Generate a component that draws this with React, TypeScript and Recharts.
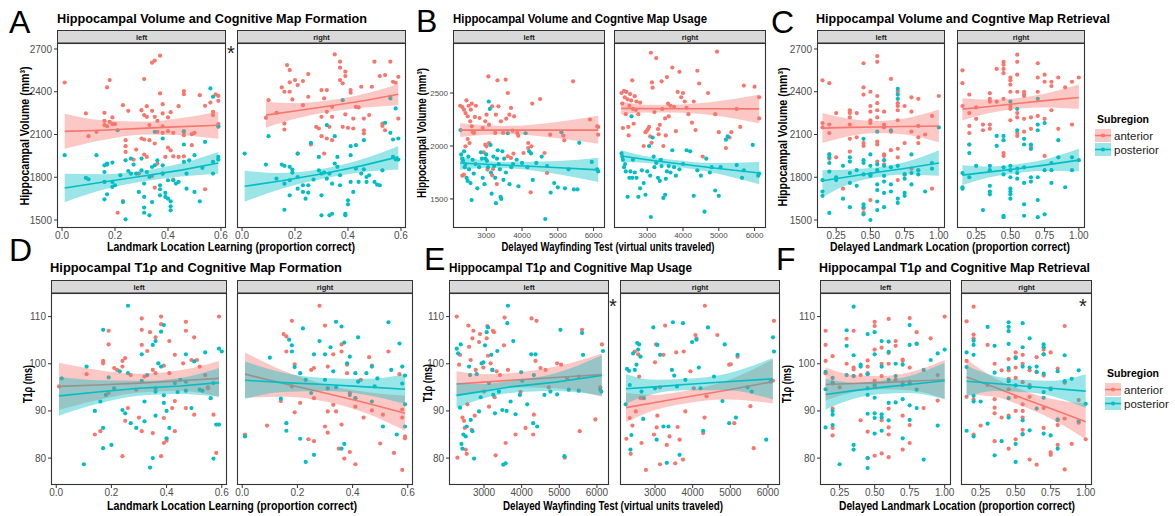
import React from 'react';
import { ComposedChart, XAxis, YAxis, Scatter, Line, Area } from 'recharts';

const RED = '#F8766D';
const CYAN = '#00BFC4';
const FONT = '"Liberation Sans", Arial, Helvetica, sans-serif';

type Pt = [number, number];
type Col = [number, number[]];
type Fit = [number, number, number, number];

// ---------- tick labels ----------
const propTicks = [0, 0.2, 0.4, 0.6];
const wayTicks = [3000, 4000, 5000, 6000];
const delayTicks = [0.25, 0.5, 0.75, 1.0];
const volTicksAC = [1500, 1800, 2100, 2400, 2700];
const volTicksB = [1500, 2000, 2500];
const t1Ticks = [80, 90, 100, 110];

// ---------- A: Volume vs Landmark Location Learning ----------
const volFormLeftAnt: Pt[] = [[0.01,2465],[0.09,2248],[0.10,2088],[0.13,2119],[0.17,2430],[0.18,2482],[0.16,2252],[0.16,2196],[0.16,2166],[0.17,2158],[0.18,2189],[0.19,2220],[0.19,2173],[0.20,2173],[0.21,1551],[0.23,2306],[0.25,2266],[0.24,2018],[0.24,2060],[0.24,1978],[0.23,1633],[0.27,1924],[0.28,1994],[0.30,2271],[0.31,2236],[0.32,2299],[0.32,2224],[0.31,2489],[0.30,2072],[0.31,2065],[0.31,1959],[0.32,1943],[0.29,1826],[0.34,2604],[0.35,2618],[0.37,2653],[0.37,2388],[0.34,2266],[0.35,2224],[0.36,2196],[0.33,2166],[0.36,2119],[0.33,2060],[0.35,2037],[0.36,1896],[0.35,1727],[0.34,1809],[0.38,2313],[0.38,2248],[0.38,2158],[0.38,2112],[0.40,2220],[0.40,2123],[0.41,2257],[0.40,2008],[0.41,1989],[0.39,1943],[0.38,1826],[0.42,1784],[0.42,2112],[0.42,1947],[0.44,2299],[0.46,2405],[0.46,2383],[0.46,2123],[0.46,2095],[0.46,1947],[0.44,1943],[0.49,2025],[0.49,2102],[0.50,2112],[0.52,2376],[0.54,2301],[0.54,1716],[0.56,2324],[0.57,2259],[0.58,2381],[0.59,2336],[0.57,2236],[0.59,2371],[0.59,2173],[0.59,2154]];
const volFormLeftPost: Pt[] = [[0.01,1955],[0.09,1795],[0.10,1786],[0.13,1955],[0.16,1884],[0.17,1889],[0.17,1896],[0.19,1903],[0.16,1837],[0.16,1767],[0.17,1680],[0.16,1645],[0.19,1767],[0.19,1732],[0.20,1744],[0.21,2130],[0.22,1814],[0.23,1626],[0.24,1505],[0.24,1919],[0.26,1931],[0.25,1844],[0.26,1826],[0.27,1889],[0.28,1826],[0.29,1697],[0.30,1931],[0.30,1849],[0.31,1756],[0.31,1662],[0.31,1587],[0.31,1551],[0.33,1533],[0.32,1837],[0.33,1802],[0.34,1626],[0.34,1872],[0.35,1884],[0.35,2119],[0.36,1919],[0.37,1716],[0.37,1673],[0.37,1744],[0.38,2072],[0.38,1884],[0.38,1826],[0.39,1690],[0.39,1662],[0.40,1650],[0.41,1631],[0.41,1596],[0.41,1568],[0.40,1779],[0.42,1779],[0.43,1756],[0.44,1767],[0.46,2119],[0.46,2030],[0.46,1908],[0.47,1826],[0.47,1720],[0.48,1919],[0.50,1697],[0.50,1955],[0.52,1631],[0.53,1866],[0.54,2048],[0.56,2423],[0.57,2365],[0.57,1826],[0.57,1908],[0.59,1943],[0.59,2158],[0.59,1924]];
const volFormRightAnt: Pt[] = [[0.09,2217],[0.10,2341],[0.13,2252],[0.15,2430],[0.16,2400],[0.16,2177],[0.16,2135],[0.17,2587],[0.18,2466],[0.18,2400],[0.18,2552],[0.19,2346],[0.20,2482],[0.21,2447],[0.21,1966],[0.23,2475],[0.23,2306],[0.25,2524],[0.25,2365],[0.26,2030],[0.28,2154],[0.29,2142],[0.30,2224],[0.30,2412],[0.31,2353],[0.30,2088],[0.31,1966],[0.32,2412],[0.32,2072],[0.32,2259],[0.33,2154],[0.34,2224],[0.34,2294],[0.34,2060],[0.35,2662],[0.37,2611],[0.37,2569],[0.37,2482],[0.38,2459],[0.39,2541],[0.39,2510],[0.39,2241],[0.38,2154],[0.40,2147],[0.41,2412],[0.41,2393],[0.42,2142],[0.42,2212],[0.43,2294],[0.44,2290],[0.45,2435],[0.46,2130],[0.46,2212],[0.48,2236],[0.49,2435],[0.50,2611],[0.52,2510],[0.53,2177],[0.54,2517],[0.54,2130],[0.56,2365],[0.56,2611],[0.57,2470],[0.58,2463],[0.59,2505],[0.59,2212],[0.53,2160],[0.46,2107]];
const volFormRightPost: Pt[] = [[0.01,1966],[0.09,1889],[0.10,2088],[0.13,1790],[0.15,1889],[0.16,1880],[0.16,1755],[0.16,1572],[0.18,1873],[0.18,1779],[0.18,1673],[0.19,1833],[0.19,1854],[0.21,1966],[0.21,1802],[0.21,1720],[0.23,1744],[0.23,1697],[0.24,1650],[0.25,1744],[0.25,1692],[0.26,2041],[0.27,1784],[0.29,1849],[0.29,1943],[0.30,1826],[0.30,1673],[0.30,1533],[0.31,1833],[0.32,1790],[0.32,2166],[0.33,1533],[0.33,1826],[0.34,1544],[0.34,1755],[0.35,1896],[0.35,2088],[0.36,1943],[0.36,1873],[0.37,1814],[0.37,1744],[0.38,2341],[0.39,1544],[0.39,1533],[0.40,1638],[0.40,1610],[0.41,1767],[0.41,1955],[0.41,2018],[0.42,1697],[0.43,2025],[0.43,1861],[0.44,1767],[0.45,1826],[0.46,2060],[0.46,1856],[0.47,1767],[0.47,1802],[0.48,1814],[0.50,1767],[0.51,1748],[0.52,1744],[0.53,1849],[0.54,2182],[0.56,2112],[0.57,2065],[0.57,1943],[0.58,1926],[0.58,2283],[0.59,2072],[0.59,1924],[0.56,2353]];
const volFormLeftAntFit: Fit[] = [[0.01,2122,2000,2245],[0.15,2130,2060,2200],[0.32,2145,2100,2190],[0.45,2155,2095,2215],[0.59,2165,2070,2262]];
const volFormLeftPostFit: Fit[] = [[0.01,1725,1625,1825],[0.15,1765,1710,1822],[0.32,1812,1775,1850],[0.45,1850,1805,1898],[0.59,1900,1825,1978]];
const volFormRightAntFit: Fit[] = [[0.09,2236,2147,2328],[0.2,2265,2210,2320],[0.35,2305,2265,2345],[0.47,2340,2290,2390],[0.59,2382,2305,2455]];
const volFormRightPostFit: Fit[] = [[0.01,1737,1628,1845],[0.15,1775,1720,1830],[0.32,1830,1795,1865],[0.45,1880,1835,1925],[0.59,1943,1855,2020]];

// ---------- B: Volume vs Delayed Wayfinding ----------
const volUseLeftAnt: Pt[] = [[2270,2380],[2331,2368],[2375,2343],[2419,2311],[2445,2431],[2480,2280],[2507,2380],[2551,2233],[2568,2343],[2594,2186],[2621,2132],[2656,2123],[2709,2380],[2594,2400],[2682,2274],[2480,2066],[2533,2028],[2419,1997],[2375,1729],[2331,1720],[2814,2264],[2901,2170],[2972,2233],[3007,2296],[3077,2201],[3059,2657],[3165,2374],[3270,2296],[3252,2123],[3314,2620],[3340,2374],[3410,2233],[3472,2123],[3542,2626],[3559,2258],[3603,2500],[3691,2359],[3647,2296],[3735,2145],[3778,2280],[3866,2123],[3892,2097],[3077,2028],[2972,2012],[3007,1997],[2928,1940],[3033,1777],[3165,1723],[3191,1783],[3296,1641],[3603,1902],[3691,1887],[3761,1928],[4173,2028],[4173,1981],[4261,1997],[4042,1934],[4243,1563],[4287,2400],[4506,2443],[4629,1934],[4699,1745],[4787,2107],[5155,2097],[5181,2053],[5427,2610],[5900,2250],[6130,2107],[6130,2180],[6102,2186]];
const volUseLeftPost: Pt[] = [[2280,2150],[2300,1920],[2330,1880],[2350,1860],[2380,1950],[2400,1800],[2420,1830],[2450,1700],[2480,1670],[2500,1900],[2520,1780],[2560,1650],[2590,1490],[2620,1870],[2650,1740],[2700,1830],[2750,1600],[2800,1800],[2850,1940],[2880,1880],[2900,1700],[2950,1640],[2980,1880],[3000,1920],[3020,1860],[3050,1800],[3070,2420],[3100,2350],[3120,2010],[3130,1750],[3150,1550],[3200,1900],[3220,1810],[3250,1700],[3270,1460],[3300,1880],[3320,1960],[3350,1830],[3380,1780],[3400,1520],[3420,1500],[3450,1950],[3480,1680],[3500,1880],[3550,1750],[3600,2120],[3650,1640],[3700,1800],[3750,1830],[3850,1870],[3900,1620],[4000,1840],[4100,2120],[4150,1800],[4200,1950],[4250,1930],[4300,1680],[4400,1840],[4550,1900],[4650,1310],[4700,1810],[4800,1560],[4900,1650],[5000,1610],[5100,2130],[5200,1600],[5300,1780],[5450,1590],[5550,1590],[5600,2030],[5950,1850],[6100,1780],[6130,1760]];
const volUseRightAnt: Pt[] = [[2280,2500],[2300,2400],[2320,2170],[2350,2520],[2370,2460],[2400,2300],[2420,2510],[2450,2440],[2470,2180],[2480,2100],[2500,2380],[2520,2490],[2550,2430],[2580,2620],[2600,2350],[2620,2210],[2650,2470],[2680,2340],[2700,2420],[2750,2300],[2800,2410],[2900,2000],[2950,2130],[3000,2150],[3020,2160],[3050,2180],[3080,2090],[3100,2880],[3120,2030],[3130,2600],[3150,2550],[3200,2320],[3250,2830],[3300,2160],[3320,2110],[3350,2200],[3400,2610],[3420,2350],[3450,2000],[3500,2260],[3520,2100],[3550,2650],[3580,2400],[3600,2280],[3650,2380],[3700,2740],[3750,2370],[3800,2140],[3850,2510],[3900,2700],[3950,2460],[4000,2500],[4050,2420],[4100,2360],[4150,2300],[4250,2220],[4300,2420],[4350,2150],[4400,2710],[4450,2590],[4550,1900],[4700,2500],[4900,2300],[4950,2890],[5000,2130],[5200,1980],[5300,2080],[5350,2130],[5500,2350],[5600,2180],[5700,2570],[6000,2560],[6130,2460],[6130,2260]];
const volUseRightPost: Pt[] = [[2280,1930],[2300,1900],[2320,1870],[2350,1800],[2380,1830],[2400,1760],[2450,1520],[2500,1700],[2530,1760],[2560,2280],[2580,1700],[2600,1870],[2650,1750],[2700,1700],[2750,1520],[2800,1600],[2850,1770],[2900,1650],[2950,1540],[3000,1760],[3050,2000],[3080,1720],[3100,1330],[3150,2080],[3180,1900],[3200,1800],[3250,1840],[3300,1700],[3350,1670],[3380,1870],[3400,1810],[3450,1510],[3500,1540],[3520,1690],[3550,1760],[3600,1810],[3650,1750],[3700,1960],[3750,1800],[3800,1720],[3900,1780],[4000,1830],[4100,1960],[4200,1950],[4300,1530],[4400,1770],[4500,1720],[4600,1380],[4650,1880],[4750,1750],[4800,1800],[4900,1580],[5000,1530],[5050,1800],[5200,2060],[5250,2090],[5500,1820],[5650,1700],[5700,1770],[5950,2010],[6100,1720],[6130,1740]];
const volUseLeftAntFit: Fit[] = [[2270,2150,2085,2215],[3000,2150,2105,2195],[3600,2150,2110,2190],[4800,2150,2080,2220],[6130,2150,2020,2285]];
const volUseLeftPostFit: Fit[] = [[2270,1840,1775,1905],[3000,1828,1795,1860],[3600,1818,1790,1848],[4800,1800,1745,1855],[6130,1775,1660,1890]];
const volUseRightAntFit: Fit[] = [[2270,2355,2295,2420],[3000,2353,2315,2390],[3700,2352,2315,2390],[4800,2352,2290,2415],[6130,2350,2215,2485]];
const volUseRightPostFit: Fit[] = [[2270,1905,1850,1960],[3000,1870,1840,1900],[3700,1840,1810,1870],[4800,1795,1750,1840],[6130,1745,1640,1850]];

// ---------- C: Volume vs Delayed Landmark Location ----------
const volRetLeftAnt: Col[] = [[0.15,[2480,2180,2150]],[0.2,[2460,2170,2110,1960,1930]],[0.25,[2250,1940]],[0.3,[1720]],[0.35,[2270,2250,2220,2170,2070,1980]],[0.4,[2250,2080]],[0.45,[2600,2430,2380,2040,2020,1580,1550]],[0.5,[2400,2300,2260,2200,2180,1820,1640]],[0.55,[2650,2610,2370,2320,2270,2220,2050,2030,1910]],[0.6,[2260,2170,2150,1960,1950,1890]],[0.65,[2490,2120,1990]],[0.7,[2400,2320,2300,2270,2200,2000,1940,1780]],[0.75,[2300,2040,1820]],[0.8,[2360,2260,2120,1860]],[0.85,[2350,2160,2080,2040]],[0.9,[2100]],[0.95,[2230,1720]],[1.0,[2370]]];
const volRetLeftPost: Col[] = [[0.15,[1780,1700,1670]],[0.2,[1960,1940,1900,1840,1550]],[0.25,[1800,1780]],[0.3,[1880,1650]],[0.35,[1940,1910,1830,1760,1590]],[0.4,[1850,1740]],[0.45,[2070,1920,1900,1820,1610,1590,1540]],[0.5,[1960,1880,1820,1810,1500]],[0.55,[2120,1890,1850,1750,1710,1630,1570]],[0.6,[1920,1880,1810,1770,1690,1590]],[0.65,[2130,1870,1750,1700]],[0.7,[2420,2380,2350,1880,1650,1620]],[0.75,[1820,1790,1690,1670]],[0.8,[1960,1830,1750]],[0.85,[1850,1820]],[0.9,[1700]],[0.95,[1900,1860]],[1.0,[2150]]];
const volRetRightAnt: Col[] = [[0.15,[2550,2460,2300]],[0.2,[2380,2250,2160,2110,2030]],[0.25,[2290,2210]],[0.3,[2170,2130]],[0.35,[2390,2350,2330,2170,2140]],[0.4,[2560,2330]],[0.45,[2610,2590,2560,2530,2350,1970,1950]],[0.5,[2500,2480,2450,2400,2300,2280,2200]],[0.55,[2660,2610,2520,2400,2250,2220,2110,2090]],[0.6,[2400,2380,2370,2210,2120]],[0.65,[2220,2140,2020,2000]],[0.7,[2600,2500,2400,2230]],[0.75,[2520,2470,2210,1950]],[0.8,[2470,2440,2270]],[0.85,[2500,2140]],[0.9,[2430]],[0.95,[2470,2170]],[1.0,[2500]]];
const volRetRightPost: Col[] = [[0.15,[1830,1730,1720]],[0.2,[2030,1970,1800]],[0.25,[1880]],[0.3,[1570]],[0.35,[1880,1850,1740,1700,1680]],[0.4,[2090,2020]],[0.45,[2090,2060,1870,1820,1530,1520]],[0.5,[2330,1880,1850,1800,1720,1700,1680,1650]],[0.55,[2280,2130,1860,1830,1790]],[0.6,[2070,2030,1870,1760,1610,1530]],[0.65,[2030,2000,1800,1770]],[0.7,[2350,2170,2130,1800,1640,1520]],[0.75,[2180,1850,1540]],[0.8,[1900,1850,1760]],[0.85,[2060,1940]],[0.9,[1730]],[0.95,[1940,1850]],[1.0,[1920]]];
const volRetLeftAntFit: Fit[] = [[0.15,2145,2040,2250],[0.35,2150,2090,2210],[0.55,2153,2110,2195],[0.75,2156,2100,2212],[1.0,2160,2045,2275]];
const volRetLeftPostFit: Fit[] = [[0.15,1775,1660,1850],[0.35,1805,1755,1855],[0.55,1835,1800,1870],[0.75,1862,1820,1905],[1.0,1900,1810,1990]];
const volRetRightAntFit: Fit[] = [[0.15,2278,2200,2355],[0.35,2297,2250,2345],[0.55,2318,2280,2355],[0.75,2338,2290,2386],[1.0,2360,2280,2450]];
const volRetRightPostFit: Fit[] = [[0.15,1815,1745,1885],[0.35,1838,1800,1876],[0.55,1860,1828,1892],[0.75,1885,1845,1925],[1.0,1920,1840,2000]];

// ---------- D: T1rho vs Landmark Location Learning ----------
const t1FormLeftAnt: Pt[] = [[0.01,95.2],[0.11,97.8],[0.14,85.0],[0.16,85.7],[0.17,100.1],[0.17,100.6],[0.19,104.1],[0.19,107.0],[0.19,93.8],[0.21,99.1],[0.22,98.7],[0.24,80.4],[0.24,99.4],[0.24,100.6],[0.25,101.2],[0.25,87.9],[0.26,90.6],[0.27,97.6],[0.29,94.5],[0.30,88.6],[0.31,109.6],[0.31,107.2],[0.31,104.0],[0.31,85.7],[0.32,97.3],[0.33,102.7],[0.34,106.7],[0.35,85.3],[0.35,98.7],[0.36,105.6],[0.36,98.0],[0.38,80.4],[0.38,110.0],[0.38,108.4],[0.39,99.6],[0.39,88.5],[0.39,83.2],[0.40,83.7],[0.41,104.8],[0.41,98.0],[0.42,90.6],[0.43,92.1],[0.43,85.7],[0.43,101.9],[0.46,100.1],[0.47,107.0],[0.47,90.6],[0.47,108.9],[0.49,100.8],[0.50,89.2],[0.50,105.6],[0.51,100.8],[0.52,99.4],[0.54,97.6],[0.55,95.0],[0.57,89.2],[0.58,81.1],[0.59,110.0],[0.55,94.8]];
const t1FormLeftPost: Pt[] = [[0.02,96.9],[0.11,99.4],[0.10,78.7],[0.14,90.0],[0.16,92.0],[0.17,107.2],[0.17,82.1],[0.17,86.4],[0.18,93.4],[0.19,97.1],[0.20,82.8],[0.21,94.8],[0.23,98.4],[0.24,90.2],[0.25,89.5],[0.26,112.3],[0.26,98.0],[0.27,87.4],[0.29,86.4],[0.31,102.0],[0.31,96.4],[0.32,92.0],[0.33,97.6],[0.32,87.8],[0.34,78.0],[0.35,80.0],[0.35,104.0],[0.36,104.8],[0.36,94.1],[0.36,89.0],[0.37,100.1],[0.38,106.8],[0.39,108.2],[0.38,99.4],[0.39,93.3],[0.39,91.7],[0.40,90.0],[0.40,84.2],[0.41,86.4],[0.43,95.9],[0.44,94.0],[0.45,96.6],[0.47,96.2],[0.47,102.0],[0.47,94.3],[0.49,90.6],[0.50,100.5],[0.53,94.3],[0.54,102.4],[0.56,92.7],[0.57,79.9],[0.58,87.1],[0.59,87.1],[0.59,103.2],[0.60,102.6],[0.57,95.9],[0.52,94.5],[0.36,94.8]];
const t1FormRightAnt: Pt[] = [[0.01,85.0],[0.09,86.9],[0.14,92.1],[0.15,106.3],[0.16,105.8],[0.16,102.6],[0.18,109.1],[0.19,99.9],[0.19,89.7],[0.18,95.2],[0.21,91.7],[0.24,84.0],[0.25,98.7],[0.26,83.6],[0.26,99.1],[0.26,92.7],[0.28,112.3],[0.30,86.7],[0.30,108.1],[0.31,99.4],[0.31,89.9],[0.31,85.4],[0.33,102.0],[0.33,91.3],[0.34,89.9],[0.35,82.0],[0.36,102.6],[0.36,104.1],[0.36,87.1],[0.37,79.9],[0.38,98.0],[0.38,99.8],[0.39,93.8],[0.39,81.3],[0.41,78.7],[0.41,92.7],[0.41,90.9],[0.43,96.6],[0.44,88.6],[0.46,101.4],[0.47,90.1],[0.47,99.6],[0.50,83.1],[0.51,89.2],[0.53,102.6],[0.55,81.1],[0.57,97.8],[0.58,77.5],[0.58,88.6],[0.59,84.2],[0.59,84.6],[0.58,90.3]];
const t1FormRightPost: Pt[] = [[0.01,84.6],[0.10,101.3],[0.14,92.6],[0.16,87.4],[0.16,85.8],[0.17,105.1],[0.18,102.6],[0.18,103.9],[0.19,99.3],[0.21,98.0],[0.22,107.5],[0.21,84.1],[0.23,96.6],[0.23,79.2],[0.25,93.8],[0.26,80.7],[0.26,102.0],[0.28,104.8],[0.30,102.0],[0.30,96.6],[0.31,94.8],[0.32,103.5],[0.33,98.4],[0.34,108.9],[0.34,95.0],[0.36,107.9],[0.36,82.0],[0.37,83.0],[0.37,104.5],[0.38,100.1],[0.39,101.5],[0.39,93.4],[0.41,92.7],[0.41,98.0],[0.42,105.6],[0.42,96.2],[0.45,98.0],[0.47,99.4],[0.47,92.0],[0.48,95.2],[0.49,96.9],[0.51,86.7],[0.53,108.8],[0.54,98.7],[0.56,85.0],[0.57,104.3],[0.58,99.4],[0.59,86.7],[0.59,91.4],[0.58,95.8],[0.59,97.5]];
const t1FormLeftAntFit: Fit[] = [[0.01,95.2,90.2,100.2],[0.15,95.5,92.3,98.7],[0.3,95.9,93.9,97.9],[0.45,96.4,94.2,98.6],[0.59,96.9,93.0,100.6]];
const t1FormLeftPostFit: Fit[] = [[0.01,93.2,89.0,97.2],[0.15,94.0,91.5,96.5],[0.3,94.8,93.2,96.4],[0.45,95.3,93.6,97.0],[0.59,96.0,93.0,99.1]];
const t1FormRightAntFit: Fit[] = [[0.01,97.8,92.8,102.4],[0.15,95.8,93.0,98.5],[0.3,93.8,92.0,95.6],[0.45,91.7,89.5,94.0],[0.59,89.5,85.8,93.2]];
const t1FormRightPostFit: Fit[] = [[0.01,96.5,92.6,100.5],[0.15,96.0,94.0,98.1],[0.3,95.6,94.2,97.0],[0.45,95.1,93.4,96.8],[0.59,94.6,91.5,97.8]];

// ---------- E: T1rho vs Delayed Wayfinding ----------
const t1UseLeftAnt: Pt[] = [[2276,110.0],[2294,80.1],[2365,101.9],[2338,99.8],[2426,88.6],[2470,87.9],[2488,86.4],[2514,81.8],[2541,80.9],[2559,91.4],[2585,108.1],[2603,103.6],[2647,100.8],[2673,86.0],[2691,105.4],[2718,107.0],[2753,89.0],[2779,98.7],[2868,104.6],[2894,106.3],[2982,99.2],[3000,94.1],[3071,105.4],[3088,108.0],[3106,101.7],[3132,90.9],[3177,100.1],[3221,98.7],[3238,107.0],[3265,106.7],[3282,92.9],[3309,80.6],[3335,98.4],[3424,97.6],[3530,103.9],[3547,109.8],[3574,83.2],[3635,98.7],[3838,85.0],[3971,94.0],[4103,86.4],[4262,109.6],[4306,85.0],[4324,89.2],[4368,100.6],[4394,109.1],[4500,99.1],[4633,98.7],[4721,95.0],[4942,100.1],[5048,99.8],[5145,80.1],[5207,96.9],[5542,85.7],[5604,107.2],[5957,88.2],[6133,104.1],[6090,95.0],[5516,97.3]];
const t1UseLeftPost: Pt[] = [[2276,103.2],[2312,102.2],[2382,104.1],[2365,90.7],[2400,83.0],[2426,82.0],[2453,85.0],[2514,84.6],[2541,86.7],[2603,99.4],[2629,97.6],[2647,88.1],[2691,85.7],[2735,79.9],[2806,97.8],[2868,89.9],[2912,92.9],[2938,100.1],[2982,100.3],[3026,103.9],[3071,106.7],[3106,107.7],[3132,95.9],[3194,101.9],[3221,98.7],[3247,93.4],[3291,89.5],[3353,102.7],[3397,94.1],[3486,90.2],[3512,78.6],[3574,78.9],[3600,90.0],[3618,108.6],[3635,112.3],[3706,92.0],[3777,104.8],[3838,89.3],[3953,93.4],[3988,98.2],[4015,96.4],[4147,91.4],[4253,102.0],[4306,87.4],[4324,97.6],[4368,102.0],[4412,86.7],[4606,93.4],[4765,94.1],[4942,93.5],[5030,107.2],[5136,80.4],[5251,94.5],[5516,94.3],[5604,106.5],[5630,101.9],[6090,94.5],[6115,94.1],[6160,102.7]];
const t1UseRightAnt: Pt[] = [[2239,84.1],[2329,88.5],[2355,80.9],[2400,86.9],[2463,102.6],[2490,89.9],[2552,102.0],[2579,97.3],[2615,92.7],[2642,83.2],[2758,77.5],[2973,85.0],[3000,100.3],[3027,104.1],[3045,86.5],[3063,89.0],[3134,78.7],[3224,101.9],[3269,108.1],[3313,82.8],[3385,84.6],[3537,78.9],[3564,102.4],[3600,86.6],[3653,83.9],[3743,79.7],[3761,102.6],[3806,89.9],[3940,98.4],[4074,106.1],[4101,105.4],[4280,85.3],[4325,112.3],[4316,88.6],[4370,93.1],[4656,106.1],[4970,99.8],[5014,99.9],[5104,87.4],[5193,101.5],[5533,91.0],[5622,82.1],[6133,96.4],[6160,109.1],[3134,95.0],[4030,94.8]];
const t1UseRightPost: Pt[] = [[2221,91.4],[2257,98.9],[2311,98.5],[2329,95.5],[2347,81.8],[2373,84.9],[2418,102.2],[2463,98.7],[2508,99.8],[2526,104.4],[2552,103.0],[2579,104.1],[2615,101.5],[2642,94.1],[2687,88.3],[2705,92.7],[2955,107.7],[3000,94.8],[3045,83.9],[3063,104.0],[3134,101.9],[3224,86.7],[3313,79.0],[3358,86.7],[3448,98.7],[3475,108.8],[3510,97.5],[3582,95.2],[3653,80.7],[3743,108.6],[3806,96.6],[3985,104.6],[4101,105.1],[4164,99.2],[4209,94.8],[4280,85.8],[4406,107.7],[4567,97.3],[4791,92.1],[4853,104.1],[4970,87.4],[5149,88.6],[5193,101.9],[5462,95.0],[5569,94.1],[5954,83.9],[6133,105.6],[6160,102.6],[6070,96.2]];
const t1UseLeftAntFit: Fit[] = [[2270,95.7,93.0,98.4],[3000,96.1,94.4,97.8],[3700,96.5,95.0,98.0],[4900,97.1,94.8,99.4],[6130,97.7,93.0,102.2]];
const t1UseLeftPostFit: Fit[] = [[2270,93.3,90.6,96.0],[3000,94.2,92.7,95.7],[3700,95.1,93.8,96.4],[4900,96.1,94.2,98.0],[6130,97.5,93.2,101.8]];
const t1UseRightAntFit: Fit[] = [[2230,90.7,87.6,93.8],[3000,91.8,90.2,93.4],[3800,92.9,91.6,94.2],[4900,94.4,92.4,96.4],[6130,96.2,91.6,100.9]];
const t1UseRightPostFit: Fit[] = [[2230,94.7,91.6,97.8],[3000,95.1,93.7,96.6],[3800,95.6,94.4,96.8],[4900,96.2,94.4,97.9],[6130,96.8,92.4,101.2]];

// ---------- F: T1rho vs Delayed Landmark Location ----------
const t1RetLeftAnt: Col[] = [[0.15,[107.0,104.0,100.6,98.0]],[0.2,[101.6,96.0,90.5,86.4,84.8]],[0.25,[95.0]],[0.3,[105.3,100.0]],[0.35,[107.0,99.2,98.8,97.4]],[0.4,[97.6,88.0]],[0.45,[100.7,99.4,98.0,85.6,80.0]],[0.5,[108.9,108.0,103.0,96.4,95.2,80.5]],[0.55,[103.4,100.0,97.4,88.0,81.0]],[0.6,[109.5,102.3,100.0,90.5,86.5,85.0,80.2]],[0.65,[104.8,103.8,96.6]],[0.7,[100.9,100.6,96.0,89.0,81.8]],[0.75,[109.7,99.2,96.2,87.0,83.2]],[0.8,[106.7,104.3]],[0.85,[90.6]],[0.9,[105.4]],[0.95,[97.6,92.2]],[1.0,[110.0]]];
const t1RetLeftPost: Col[] = [[0.15,[98.3,94.6,86.5]],[0.2,[97.0,95.8,90.0,89.2,87.0]],[0.25,[78.7]],[0.3,[107.1,103.8,97.6]],[0.35,[112.1,101.8,97.4,82.8,81.8]],[0.4,[99.8,99.4]],[0.45,[106.3,97.8,94.8,93.4,89.4,80.0,77.9]],[0.5,[106.7,102.0,95.6,92.8,89.5,88.5,85.2]],[0.55,[104.8,99.4,89.3,88.6,85.8]],[0.6,[104.7,102.5,96.6,91.7,88.0]],[0.65,[100.0,97.4,91.8]],[0.7,[99.8,95.5,92.5,84.2]],[0.75,[108.2,104.0,95.8,91.2,88.1]],[0.8,[104.2,94.5,90.6]],[0.85,[98.7,79.7]],[0.9,[100.8]],[0.95,[102.2,86.9]],[1.0,[103.0]]];
const t1RetRightAnt: Col[] = [[0.15,[109.0,100.6,93.0]],[0.2,[112.1,106.2,105.4,92.4,85.0]],[0.25,[86.9]],[0.3,[104.0,95.5]],[0.35,[100.0,92.5,90.7,89.5,83.6]],[0.4,[98.6,88.6]],[0.45,[101.0,98.6,96.8,94.6,89.0,82.0]],[0.5,[102.4,101.4,99.2,97.0,93.0,90.0,84.0]],[0.55,[101.9,100.0,96.1,91.4,90.0,88.6,86.0,85.0]],[0.6,[98.6,95.5,93.0,79.7]],[0.65,[101.4,98.2,78.6]],[0.7,[103.0,102.0,97.5,90.6,86.4]],[0.75,[102.4,94.8,81.2,80.7]],[0.8,[99.0,88.0,87.0,82.8]],[0.85,[108.0,96.0,88.4,77.6]],[0.9,[83.0]],[0.95,[92.3,87.5]],[1.0,[84.0]]];
const t1RetRightPost: Col[] = [[0.15,[102.4,99.3,85.8]],[0.2,[104.9,104.0,101.9,93.2,92.0,84.6]],[0.25,[92.0]],[0.3,[107.8,87.3]],[0.35,[103.8,98.1,80.6]],[0.4,[83.6]],[0.45,[108.8,107.8,106.9,104.2,99.1,96.3,92.7,88.6]],[0.5,[101.2,95.4,83.0,79.2]],[0.55,[108.6,103.5,99.4,88.0,85.1]],[0.6,[105.4,99.2,95.0,85.9]],[0.65,[99.4,98.3,90.5]],[0.7,[104.1,103.5,102.0,97.9,94.0,92.8,85.2]],[0.75,[94.6,84.8]],[0.8,[98.4,88.2,82.0]],[0.85,[101.8,96.3]],[0.9,[96.8]],[0.95,[98.6,87.8]],[1.0,[91.5]]];
const t1RetLeftAntFit: Fit[] = [[0.15,95.6,92.2,99.2],[0.35,95.8,94.0,97.6],[0.55,96.0,94.6,97.4],[0.75,96.3,94.4,98.2],[1.0,96.6,92.6,100.8]];
const t1RetLeftPostFit: Fit[] = [[0.15,93.5,90.3,96.8],[0.35,94.3,92.6,96.0],[0.55,95.0,93.6,96.4],[0.75,95.6,93.8,97.4],[1.0,96.4,92.5,100.2]];
const t1RetRightAntFit: Fit[] = [[0.15,97.2,93.5,100.9],[0.35,95.0,93.0,97.0],[0.55,92.7,91.0,94.4],[0.75,90.5,88.4,92.6],[1.0,87.7,84.0,91.6]];
const t1RetRightPostFit: Fit[] = [[0.15,96.3,93.0,99.6],[0.35,95.8,94.2,97.4],[0.55,95.3,94.0,96.6],[0.75,94.8,93.2,96.4],[1.0,94.2,90.6,97.8]];

// ---------- helpers ----------
const pts = (a: Pt[]) => a.map(([x, y]) => ({ x, y }));
const cols = (a: Col[]) => a.flatMap(([x, ys]) => ys.map((y) => ({ x, y })));
const fits = (a: Fit[]) => a.map(([x, fit, lo, hi]) => ({ x, fit, band: [lo, hi] }));

const dot = (color: string) => (props: any) => {
  const { cx, cy } = props;
  if (cx == null || cy == null || isNaN(cx) || isNaN(cy)) return <g />;
  return <circle cx={cx} cy={cy} r={2.1} fill={color} />;
};

const fmt1 = (v: number) => v.toFixed(1);
const fmt2 = (v: number) => v.toFixed(2);
const fmt0 = (v: number) => String(v);

interface FacetProps {
  left: number; top: number; w: number; h: number;
  xDomain: [number, number]; yDomain: [number, number];
  xTicks: number[]; yTicks: number[]; showY: boolean;
  ant: { x: number; y: number }[]; post: { x: number; y: number }[];
  antFit: Fit[]; postFit: Fit[];
  xFmt: (v: number) => string; fs: number;
}

function Facet(p: FacetProps) {
  const axisW = p.showY ? 40 : 0;
  const axisH = 22;
  const ml = p.showY ? 0 : 16;
  const mr = 16;
  const tickStyle = { fill: '#4d4d4d', fontSize: p.fs, fontFamily: FONT };
  return (
    <div style={{ position: 'absolute', left: p.left - axisW - ml, top: p.top }}>
      <ComposedChart width={p.w + axisW + ml + mr} height={p.h + axisH} margin={{ top: 0, right: mr, bottom: 0, left: ml }}>
        <XAxis type="number" dataKey="x" domain={p.xDomain} ticks={p.xTicks} allowDataOverflow interval={0}
          axisLine={false} tickLine={{ stroke: '#333333' }} tickSize={3} tickMargin={1} height={axisH}
          tick={tickStyle} tickFormatter={p.xFmt} />
        <YAxis type="number" domain={p.yDomain} ticks={p.yTicks} allowDataOverflow interval={0} hide={!p.showY}
          width={axisW} axisLine={false} tickLine={{ stroke: '#333333' }} tickSize={3} tickMargin={2} tick={tickStyle} />
        <Scatter data={p.ant} dataKey="y" shape={dot(RED)} isAnimationActive={false} zIndex={50} />
        <Scatter data={p.post} dataKey="y" shape={dot(CYAN)} isAnimationActive={false} zIndex={51} />
        <Area data={fits(p.antFit)} dataKey="band" type="monotone" stroke="none" fill={RED} fillOpacity={0.4} isAnimationActive={false} zIndex={100} />
        <Line data={fits(p.antFit)} dataKey="fit" type="linear" stroke={RED} strokeWidth={1.6} dot={false} activeDot={false} isAnimationActive={false} zIndex={110} />
        <Area data={fits(p.postFit)} dataKey="band" type="monotone" stroke="none" fill={CYAN} fillOpacity={0.4} isAnimationActive={false} zIndex={120} />
        <Line data={fits(p.postFit)} dataKey="fit" type="linear" stroke={CYAN} strokeWidth={1.6} dot={false} activeDot={false} isAnimationActive={false} zIndex={130} />
      </ComposedChart>
    </div>
  );
}

// panel geometry (plot-area rectangles)
const TOP_Y = 43, TOP_H = 185, BOT_Y = 293, BOT_H = 192;
const domA: [number, number] = [-0.019, 0.619];
const domB: [number, number] = [2070, 6320];
const domC: [number, number] = [0.11, 1.045];
const yVolAC: [number, number] = [1444, 2742];
const yVolB: [number, number] = [1226, 2972];
const yT1: [number, number] = [74.3, 115];

const facets: FacetProps[] = [
  { left: 57, top: TOP_Y, w: 169, h: TOP_H, xDomain: domA, yDomain: yVolAC, xTicks: propTicks, yTicks: volTicksAC, showY: true, ant: pts(volFormLeftAnt), post: pts(volFormLeftPost), antFit: volFormLeftAntFit, postFit: volFormLeftPostFit, xFmt: fmt1, fs: 10 },
  { left: 237, top: TOP_Y, w: 169, h: TOP_H, xDomain: domA, yDomain: yVolAC, xTicks: propTicks, yTicks: volTicksAC, showY: false, ant: pts(volFormRightAnt), post: pts(volFormRightPost), antFit: volFormRightAntFit, postFit: volFormRightPostFit, xFmt: fmt1, fs: 10 },
  { left: 453, top: TOP_Y, w: 152, h: TOP_H, xDomain: domB, yDomain: yVolB, xTicks: wayTicks, yTicks: volTicksB, showY: true, ant: pts(volUseLeftAnt), post: pts(volUseLeftPost), antFit: volUseLeftAntFit, postFit: volUseLeftPostFit, xFmt: fmt0, fs: 8 },
  { left: 614, top: TOP_Y, w: 152, h: TOP_H, xDomain: domB, yDomain: yVolB, xTicks: wayTicks, yTicks: volTicksB, showY: false, ant: pts(volUseRightAnt), post: pts(volUseRightPost), antFit: volUseRightAntFit, postFit: volUseRightPostFit, xFmt: fmt0, fs: 8 },
  { left: 817, top: TOP_Y, w: 128, h: TOP_H, xDomain: domC, yDomain: yVolAC, xTicks: delayTicks, yTicks: volTicksAC, showY: true, ant: cols(volRetLeftAnt), post: cols(volRetLeftPost), antFit: volRetLeftAntFit, postFit: volRetLeftPostFit, xFmt: fmt2, fs: 10 },
  { left: 957, top: TOP_Y, w: 128, h: TOP_H, xDomain: domC, yDomain: yVolAC, xTicks: delayTicks, yTicks: volTicksAC, showY: false, ant: cols(volRetRightAnt), post: cols(volRetRightPost), antFit: volRetRightAntFit, postFit: volRetRightPostFit, xFmt: fmt2, fs: 10 },
  { left: 51, top: BOT_Y, w: 176, h: BOT_H, xDomain: domA, yDomain: yT1, xTicks: propTicks, yTicks: t1Ticks, showY: true, ant: pts(t1FormLeftAnt), post: pts(t1FormLeftPost), antFit: t1FormLeftAntFit, postFit: t1FormLeftPostFit, xFmt: fmt1, fs: 10 },
  { left: 237, top: BOT_Y, w: 176, h: BOT_H, xDomain: domA, yDomain: yT1, xTicks: propTicks, yTicks: t1Ticks, showY: false, ant: pts(t1FormRightAnt), post: pts(t1FormRightPost), antFit: t1FormRightAntFit, postFit: t1FormRightPostFit, xFmt: fmt1, fs: 10 },
  { left: 449, top: BOT_Y, w: 160, h: BOT_H, xDomain: domB, yDomain: yT1, xTicks: wayTicks, yTicks: t1Ticks, showY: true, ant: pts(t1UseLeftAnt), post: pts(t1UseLeftPost), antFit: t1UseLeftAntFit, postFit: t1UseLeftPostFit, xFmt: fmt0, fs: 10 },
  { left: 620, top: BOT_Y, w: 160, h: BOT_H, xDomain: domB, yDomain: yT1, xTicks: wayTicks, yTicks: t1Ticks, showY: false, ant: pts(t1UseRightAnt), post: pts(t1UseRightPost), antFit: t1UseRightAntFit, postFit: t1UseRightPostFit, xFmt: fmt0, fs: 10 },
  { left: 820, top: BOT_Y, w: 131, h: BOT_H, xDomain: domC, yDomain: yT1, xTicks: delayTicks, yTicks: t1Ticks, showY: true, ant: cols(t1RetLeftAnt), post: cols(t1RetLeftPost), antFit: t1RetLeftAntFit, postFit: t1RetLeftPostFit, xFmt: fmt2, fs: 10 },
  { left: 961, top: BOT_Y, w: 131, h: BOT_H, xDomain: domC, yDomain: yT1, xTicks: delayTicks, yTicks: t1Ticks, showY: false, ant: cols(t1RetRightAnt), post: cols(t1RetRightPost), antFit: t1RetRightAntFit, postFit: t1RetRightPostFit, xFmt: fmt2, fs: 10 },
];

const stripNames = ['left', 'right', 'left', 'right', 'left', 'right', 'left', 'right', 'left', 'right', 'left', 'right'];

const titles: [string, number, number, number][] = [
  ['Hippocampal Volume and Cognitive Map Formation', 57, 23, 310],
  ['Hippocampal Volume and Cogntive Map Usage', 453, 23, 254],
  ['Hippocampal Volume and Cogntive Map Retrieval', 816, 23, 294],
  ['Hippocampal T1\u03c1 and Cognitive Map Formation', 50, 272, 292],
  ['Hippocampal T1\u03c1 and Cognitive Map Usage', 449, 272, 243],
  ['Hippocampal T1\u03c1 and Cognitive Map Retrieval', 819, 272, 271],
];
const xTitles: [string, number, number, number][] = [
  ['Landmark Location Learning (proportion correct)', 231, 251, 248],
  ['Delayed Wayfinding Test (virtual units traveled)', 608, 251, 213],
  ['Delayed Landmark Location (proportion correct)', 950, 251, 240],
  ['Landmark Location Learning (proportion correct)', 232, 510, 250],
  ['Delayed Wayfinding Test (virtual units traveled)', 613, 510, 220],
  ['Delayed Landmark Location (proportion correct)', 957, 510, 236],
];
const yTitles: [string, number, number, number][] = [
  ['Hippocampal Volume (mm\u00b3)', 29, 136, 139],
  ['Hippocampal Volume (mm\u00b3)', 426, 133, 130],
  ['Hippocampal Volume (mm\u00b3)', 787, 137, 139],
  ['T1\u03c1 (ms)', 32, 384, 38],
  ['T1\u03c1 (ms)', 432, 383, 38],
  ['T1\u03c1 (ms)', 791, 384, 38],
];
const letters: [string, number, number][] = [
  ['A', 9, 33], ['B', 416, 32], ['C', 771, 33], ['D', 9, 261], ['E', 424, 270], ['F', 776, 270],
];
const stars: [number, number][] = [[231, 60], [613, 313], [1083, 313]];
const legendLabels = ['anterior', 'posterior'];
const legends: [number, number][] = [[1095, 123], [1105, 377]];

function Legend({ x, y }: { x: number; y: number }) {
  return (
    <g>
      <text x={x + 2} y={y} fontSize={11} fontWeight="bold" fill="#000" textLength={52} lengthAdjust="spacingAndGlyphs">Subregion</text>
      {legendLabels.map((lab, i) => {
        const c = i === 0 ? RED : CYAN;
        const ky = y + 6 + i * 14;
        return (
          <g key={lab}>
            <rect x={x} y={ky} width={16} height={13} fill={c} fillOpacity={0.4} />
            <line x1={x} x2={x + 16} y1={ky + 6.5} y2={ky + 6.5} stroke={c} strokeWidth={1.6} />
            <circle cx={x + 8} cy={ky + 6.5} r={2.1} fill={c} />
            <text x={x + 19} y={ky + 10.5} fontSize={11.5} fill="#1a1a1a">{lab}</text>
          </g>
        );
      })}
    </g>
  );
}

export default function App() {
  return (
    <div style={{ position: 'absolute', left: 0, top: 0, width: 1175, height: 516, background: '#fff', overflow: 'hidden', fontFamily: FONT }}>
      {facets.map((f, i) => <Facet key={i} {...f} />)}
      <svg width={1175} height={516} style={{ position: 'absolute', left: 0, top: 0, pointerEvents: 'none' }} fontFamily={FONT}>
        {facets.map((f, i) => (
          <g key={'s' + i}>
            <rect x={f.left + 0.5} y={f.top - 12.5} width={f.w - 1} height={12.5} fill="#d9d9d9" stroke="#333333" strokeWidth={1} />
            <text x={f.left + f.w / 2} y={f.top - 3.5} textAnchor="middle" fontSize={7.5} fontWeight="bold" fill="#1a1a1a">{stripNames[i]}</text>
            <rect x={f.left + 0.5} y={f.top + 0.5} width={f.w - 1} height={f.h - 1} fill="none" stroke="#333333" strokeWidth={1.1} />
          </g>
        ))}
        {titles.map(([t, x, y, len], i) => (
          <text key={'t' + i} x={x} y={y} fontSize={13} fontWeight="bold" fill="#000" textLength={len} lengthAdjust="spacingAndGlyphs">{t}</text>
        ))}
        {xTitles.map(([t, x, y, len], i) => (
          <text key={'x' + i} x={x} y={y} textAnchor="middle" fontSize={12} fontWeight="bold" fill="#000" textLength={len} lengthAdjust="spacingAndGlyphs">{t}</text>
        ))}
        {yTitles.map(([t, x, y, len], i) => (
          <text key={'y' + i} transform={`translate(${x},${y}) rotate(-90)`} textAnchor="middle" fontSize={12} fontWeight="bold" fill="#000" textLength={len} lengthAdjust="spacingAndGlyphs">{t}</text>
        ))}
        {letters.map(([t, x, y]) => (
          <text key={t} x={x} y={y} fontSize={32} fill="#000">{t}</text>
        ))}
        {stars.map(([x, y], i) => (
          <text key={'a' + i} x={x} y={y} textAnchor="middle" fontSize={20} fill="#222">*</text>
        ))}
        {legends.map(([x, y], i) => <Legend key={'l' + i} x={x} y={y} />)}
      </svg>
    </div>
  );
}
